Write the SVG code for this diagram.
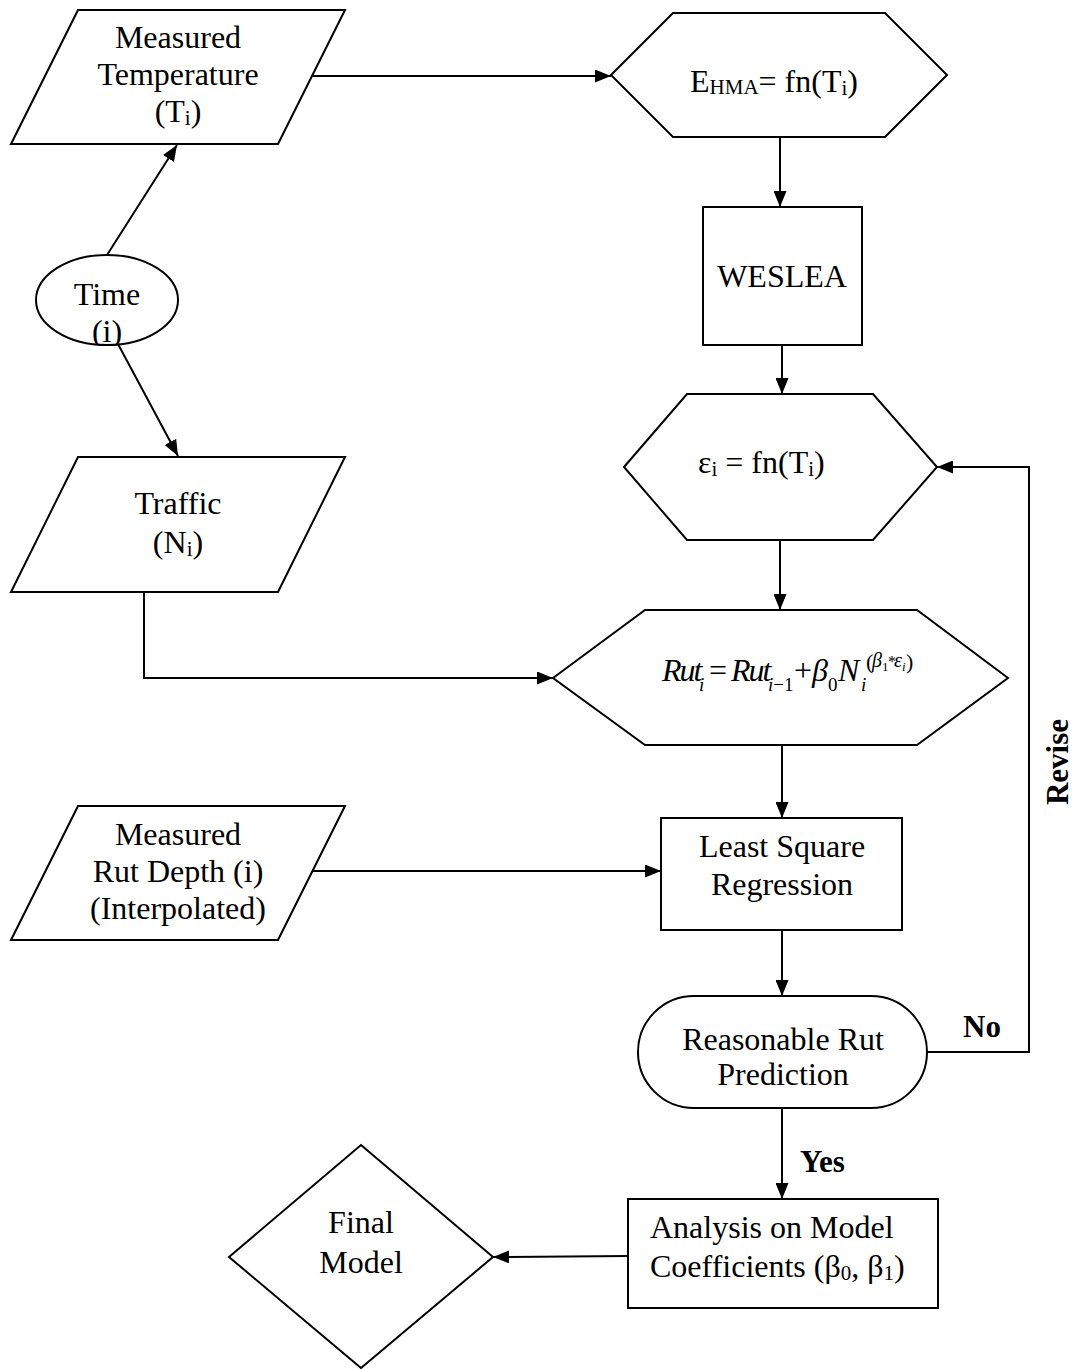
<svg xmlns="http://www.w3.org/2000/svg" width="1075" height="1369" viewBox="0 0 1075 1369">
  <style>
    .shape { fill: #ffffff; stroke: #000000; stroke-width: 2; }
    .conn { fill: none; stroke: #000000; stroke-width: 2; }
    text { font-family: "Liberation Serif", "Times New Roman", serif; fill: #000000; }
    .lbl { font-size: 32px; text-anchor: middle; }
    .lft { font-size: 32px; }
    .sub { font-size: 21px; }
    .bold { font-size: 31px; font-weight: bold; }
    .eq { font-size: 32px; font-style: italic; }
    .up { font-style: normal; }
  </style>
  <defs>
    <marker id="arrow" markerUnits="userSpaceOnUse" markerWidth="16" markerHeight="13" refX="16" refY="6.5" orient="auto">
      <path d="M0,0 L16,6.5 L0,13 z" fill="#000000"/>
    </marker>
    <clipPath id="timeClip">
      <ellipse cx="107" cy="300" rx="71" ry="45"/>
    </clipPath>
  </defs>

  <!-- connectors -->
  <g id="connectors">
    <line class="conn" x1="313" y1="76" x2="611" y2="76" marker-end="url(#arrow)"/>
    <line class="conn" x1="107" y1="255" x2="177" y2="145" marker-end="url(#arrow)"/>
    <line class="conn" x1="118" y1="344" x2="178" y2="456" marker-end="url(#arrow)"/>
    <line class="conn" x1="780" y1="137" x2="780" y2="207" marker-end="url(#arrow)"/>
    <line class="conn" x1="782" y1="345" x2="782" y2="394" marker-end="url(#arrow)"/>
    <line class="conn" x1="780" y1="540" x2="780" y2="610" marker-end="url(#arrow)"/>
    <polyline class="conn" points="144,592 144,678 553,678" marker-end="url(#arrow)"/>
    <line class="conn" x1="782" y1="745" x2="782" y2="818" marker-end="url(#arrow)"/>
    <line class="conn" x1="313" y1="871" x2="661" y2="871" marker-end="url(#arrow)"/>
    <line class="conn" x1="782" y1="930" x2="782" y2="996" marker-end="url(#arrow)"/>
    <polyline class="conn" points="927,1052 1029,1052 1029,467 937,467" marker-end="url(#arrow)"/>
    <line class="conn" x1="782" y1="1108" x2="782" y2="1199" marker-end="url(#arrow)"/>
    <line class="conn" x1="628" y1="1256" x2="493" y2="1257" marker-end="url(#arrow)"/>
    <text class="bold" x="963" y="1037">No</text>
    <text class="bold" x="800" y="1172">Yes</text>
    <text class="bold" text-anchor="middle" transform="translate(1068,762) rotate(-90)">Revise</text>
  </g>

  <!-- input: measured temperature -->
  <g id="measured-temperature">
    <polygon class="shape" points="78,10 345,10 278,144 11,144"/>
    <text class="lbl" x="178" y="48">Measured</text>
    <text class="lbl" x="178" y="85">Temperature</text>
    <text class="lbl" x="178" y="122">(T<tspan class="sub" dy="3">i</tspan><tspan dy="-3">)</tspan></text>
  </g>

  <!-- time -->
  <g id="time">
    <ellipse class="shape" cx="107" cy="300" rx="71" ry="45"/>
    <g clip-path="url(#timeClip)">
      <text class="lbl" x="107" y="305">Time</text>
      <text class="lbl" x="107" y="342">(i)</text>
    </g>
  </g>

  <!-- input: traffic -->
  <g id="traffic">
    <polygon class="shape" points="78,457 345,457 278,592 11,592"/>
    <text class="lbl" x="178" y="514">Traffic</text>
    <text class="lbl" x="178" y="553">(N<tspan class="sub" dy="3">i</tspan><tspan dy="-3">)</tspan></text>
  </g>

  <!-- input: measured rut depth -->
  <g id="measured-rut-depth">
    <polygon class="shape" points="78,806 345,806 278,940 11,940"/>
    <text class="lbl" x="178" y="845">Measured</text>
    <text class="lbl" x="178" y="882">Rut Depth (i)</text>
    <text class="lbl" x="178" y="919">(Interpolated)</text>
  </g>

  <!-- modulus as a function of temperature -->
  <g id="modulus">
    <polygon class="shape" points="611,75 673,13 885,13 947,75 885,137 673,137"/>
    <text class="lft" x="690" y="92">E<tspan class="sub" dy="2">HMA</tspan><tspan dy="-2">= fn(T</tspan><tspan class="sub" dy="3">i</tspan><tspan dy="-3">)</tspan></text>
  </g>

  <!-- layered elastic analysis -->
  <g id="weslea">
    <rect class="shape" x="703" y="207" width="159" height="138"/>
    <text class="lbl" x="782" y="287">WESLEA</text>
  </g>

  <!-- strain as a function of temperature -->
  <g id="strain">
    <polygon class="shape" points="624,467 687,394 873,394 937,467 873,540 687,540"/>
    <text class="lft" x="698" y="473">ε<tspan class="sub" dy="3">i</tspan><tspan dy="-3"> = fn(T</tspan><tspan class="sub" dy="3">i</tspan><tspan dy="-3">)</tspan></text>
  </g>

  <!-- rut accumulation model: Rut_i = Rut_(i-1) + b0 * N_i^(b1*e_i) -->
  <g id="rut-model">
    <polygon class="shape" points="553,678 645,610 917,610 1008,678 917,745 645,745"/>
    <text class="eq"><tspan x="662" y="681" letter-spacing="-2">Rut</tspan><tspan x="699" y="691" font-size="19">i</tspan><tspan class="up" x="709" y="681">=</tspan><tspan x="731" y="681" letter-spacing="-2">Rut</tspan><tspan x="768" y="691" font-size="19">i</tspan><tspan class="up" font-size="19" y="691">−1</tspan><tspan class="up" x="794" y="681">+</tspan><tspan x="812" y="681">β</tspan><tspan class="up" x="828" y="691" font-size="19">0</tspan><tspan x="838" y="681">N</tspan><tspan x="861" y="691" font-size="19">i</tspan><tspan class="up" x="866" y="669" font-size="22">(</tspan><tspan x="872" y="667" font-size="20">β</tspan><tspan class="up" x="882" y="671" font-size="13">1</tspan><tspan class="up" x="888" y="667" font-size="16">*</tspan><tspan x="894" y="667" font-size="20">ε</tspan><tspan x="902" y="671" font-size="13">i</tspan><tspan class="up" x="906" y="669" font-size="22">)</tspan></text>
  </g>

  <!-- regression -->
  <g id="least-square">
    <rect class="shape" x="661" y="818" width="241" height="112"/>
    <text class="lbl" x="782" y="857">Least Square</text>
    <text class="lbl" x="782" y="895">Regression</text>
  </g>

  <!-- decision -->
  <g id="reasonable-prediction">
    <rect class="shape" x="638" y="996" width="289" height="112" rx="56" ry="56"/>
    <text class="lbl" x="783" y="1050">Reasonable Rut</text>
    <text class="lbl" x="783" y="1085">Prediction</text>
  </g>

  <!-- coefficient analysis -->
  <g id="coefficient-analysis">
    <rect class="shape" x="628" y="1199" width="310" height="109"/>
    <text class="lft" x="650" y="1238">Analysis on Model</text>
    <text class="lft" x="650" y="1277">Coefficients (β<tspan class="sub" dy="3">0</tspan><tspan dy="-3">, β</tspan><tspan class="sub" dy="3">1</tspan><tspan dy="-3">)</tspan></text>
  </g>

  <!-- final model -->
  <g id="final-model">
    <polygon class="shape" points="361,1145 493,1257 361,1368 229,1257"/>
    <text class="lbl" x="361" y="1233">Final</text>
    <text class="lbl" x="361" y="1273">Model</text>
  </g>
</svg>
